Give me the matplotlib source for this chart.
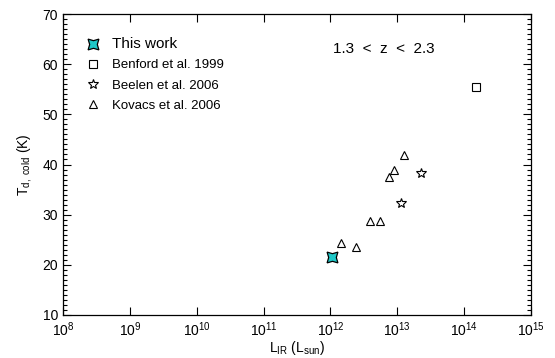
import numpy as np
import matplotlib
matplotlib.use('Agg')
import matplotlib.pyplot as plt
from matplotlib.ticker import MultipleLocator, FixedLocator, NullLocator

plt.rcParams['font.family'] = ['Liberation Sans', 'DejaVu Sans']
plt.rcParams['mathtext.fontset'] = 'custom'
plt.rcParams['mathtext.rm'] = 'Liberation Sans'
plt.rcParams['mathtext.it'] = 'Liberation Sans'

# this work
this_L = [1.05e12]
this_T = [21.5]

# Benford et al. 1999
benford_L = [1.5e14]
benford_T = [55.5]

# Beelen et al. 2006
beelen_L = [2.3e13, 1.12e13]
beelen_T = [38.3, 32.3]

# Kovacs et al. 2006
kovacs_L = [1.25e13, 8.9e12, 7.6e12, 3.9e12, 5.6e12, 1.45e12, 2.4e12]
kovacs_T = [41.8, 38.9, 37.5, 28.8, 28.8, 24.4, 23.6]

fig = plt.figure(figsize=(5.55, 3.58), dpi=100)
ax = fig.add_axes([63/555, 1-315/358, 468/555, 301/358])

ax.plot(this_L, this_T, ls='none', marker=(4, 1, 45), ms=11,
        mfc='#1ec8c8', mec='k', mew=0.9, label='This work', zorder=5)
ax.plot(benford_L, benford_T, ls='none', marker='s', ms=5.5,
        mfc='none', mec='k', mew=0.8, label='Benford et al. 1999')
ax.plot(beelen_L, beelen_T, ls='none', marker='*', ms=7.5,
        mfc='none', mec='k', mew=0.8, label='Beelen et al. 2006')
ax.plot(kovacs_L, kovacs_T, ls='none', marker='^', ms=5.5,
        mfc='none', mec='k', mew=0.8, label='Kovacs et al. 2006')

ax.set_xscale('log')
ax.set_xlim(1e8, 1e15)
ax.set_ylim(10, 70)
ax.xaxis.set_major_locator(FixedLocator([10.0**k for k in range(8, 16)]))
ax.xaxis.set_minor_locator(NullLocator())
ax.yaxis.set_major_locator(MultipleLocator(10))
ax.yaxis.set_minor_locator(MultipleLocator(1))
ax.tick_params(which='both', direction='in', top=True, right=True,
               labelsize=10, width=0.8)
ax.tick_params(which='major', length=6)
ax.tick_params(which='minor', length=3)
ax.tick_params(axis='x', pad=4)
for s in ax.spines.values():
    s.set_linewidth(0.9)

ax.set_xlabel(r'L$_{\mathrm{IR}}$ (L$_{\mathrm{sun}}$)', fontsize=10, labelpad=0)
ax.set_ylabel(r'T$_{\mathrm{d,\ cold}}$ (K)', fontsize=10, labelpad=6)

ax.text(0.685, 0.885, '1.3  <  z  <  2.3', transform=ax.transAxes,
        ha='center', va='center', fontsize=11)

leg = ax.legend(loc='upper left', bbox_to_anchor=(0.025, 0.94), frameon=False,
                fontsize=9.5, handletextpad=0.4, labelspacing=0.6,
                numpoints=1, borderaxespad=0)
leg.get_texts()[0].set_fontsize(11)

fig.savefig('out.png', dpi=100)
